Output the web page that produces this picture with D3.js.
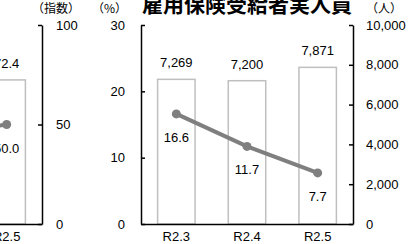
<!DOCTYPE html>
<html>
<head>
<meta charset="utf-8">
<script src="https://cdn.jsdelivr.net/npm/d3@7"></script>
<style>
  body { margin: 0; background: #fff; }
  svg { display: block; font-family: "Liberation Sans", Arial, sans-serif; }
  .axis path, .axis line { stroke: #000; stroke-width: 1.5; }
  .axis text { font-size: 13px; fill: #000; }
</style>
</head>
<body>
<svg width="411" height="244"></svg>
<script>
// categories (shared by both panels)
var categories = ["R2.3", "R2.4", "R2.5"];

// left panel (only its right edge is in view): index
var indexBars = [80.0, 75.0, 72.4];
var indexLine = [60.0, 45.0, 50.0];
var indexTicks = [0, 50, 100];

// main panel: 雇用保険受給者実人員
var recipients = [7269, 7200, 7871];          // 人 (right axis)
var rate = [16.6, 11.7, 7.7];                 // % (left axis)
var rateTicks = [0, 10, 20, 30];
var peopleTicks = [0, 2000, 4000, 6000, 8000, 10000];

var svg = d3.select("svg");
var W = +svg.attr("width");
var top0 = 25, bottom0 = 224;
var barStroke = "#bfbfbf", lineColor = "#7f7f7f";

function band(x0, x1) {
  return d3.scaleBand().domain(categories).range([x0, x1])
    .paddingInner(0.47).paddingOuter(0.235);
}

// only keep labels that at least partly fall inside the picture
function inView(x) { return x > -12 && x < W + 12; }

function drawBars(g, x, y, vals, fmt) {
  var cx = function(i) { return x(categories[i]) + x.bandwidth() / 2; };
  g.selectAll(null).data(vals).enter().append("rect")
    .attr("x", function(d, i) { return x(categories[i]); })
    .attr("y", function(d) { return y(d); })
    .attr("width", x.bandwidth())
    .attr("height", function(d) { return y(0) - y(d); })
    .attr("fill", "#fff")
    .attr("stroke", barStroke)
    .attr("stroke-width", 1.5);
  vals.forEach(function(d, i) {
    if (!inView(cx(i))) return;
    g.append("text")
      .attr("x", cx(i))
      .attr("y", y(d) - 12)
      .attr("text-anchor", "middle")
      .attr("font-size", 13)
      .text(fmt(d));
  });
}

function drawLine(g, x, y, vals, fmt) {
  var cx = function(i) { return x(categories[i]) + x.bandwidth() / 2; };
  g.append("path")
    .datum(vals)
    .attr("fill", "none")
    .attr("stroke", lineColor)
    .attr("stroke-width", 4)
    .attr("d", d3.line().x(function(d, i) { return cx(i); }).y(function(d) { return y(d); }));
  g.selectAll(null).data(vals).enter().append("circle")
    .attr("cx", function(d, i) { return cx(i); })
    .attr("cy", function(d) { return y(d); })
    .attr("r", 4.5)
    .attr("fill", lineColor);
  vals.forEach(function(d, i) {
    if (!inView(cx(i))) return;
    g.append("text")
      .attr("x", cx(i))
      .attr("y", y(d) + 28)
      .attr("text-anchor", "middle")
      .attr("font-size", 13)
      .text(fmt(d));
  });
}

function catAxis(g, x) {
  var ax = g.append("g").attr("class", "axis")
    .attr("transform", "translate(0," + bottom0 + ")")
    .call(d3.axisBottom(x).tickSize(0).tickPadding(8));
  ax.selectAll(".tick")
    .filter(function(d) { return !inView(x(d) + x.bandwidth() / 2); })
    .remove();
}

function unitLabel(x, txt, anchor) {
  svg.append("text")
    .attr("x", x).attr("y", 13)
    .attr("text-anchor", anchor)
    .attr("font-family", "'Noto Sans CJK JP', sans-serif")
    .attr("font-size", 12)
    .text(txt);
}

// ---- left panel ----
var xL = band(-170, 42);
var yIdx = d3.scaleLinear().domain([0, 100]).range([bottom0, top0]);
var gL = svg.append("g");
drawBars(gL, xL, yIdx, indexBars, d3.format(".1f"));
drawLine(gL, xL, yIdx, indexLine, d3.format(".1f"));
catAxis(gL, xL);
gL.append("g").attr("class", "axis")
  .attr("transform", "translate(42,0)")
  .call(d3.axisRight(yIdx).tickValues(indexTicks).tickSize(-4).tickSizeOuter(0).tickPadding(14));
unitLabel(80, "（指数）", "end");

// ---- main panel ----
var xM = band(141, 353);
var yRate = d3.scaleLinear().domain([0, 30]).range([bottom0, top0]);
var yPeople = d3.scaleLinear().domain([0, 10000]).range([bottom0, top0]);
var gM = svg.append("g");
drawBars(gM, xM, yPeople, recipients, d3.format(","));
drawLine(gM, xM, yRate, rate, d3.format(".1f"));
catAxis(gM, xM);
gM.append("g").attr("class", "axis")
  .attr("transform", "translate(141,0)")
  .call(d3.axisLeft(yRate).tickValues(rateTicks).tickSize(-4).tickSizeOuter(0).tickPadding(16));
gM.append("g").attr("class", "axis")
  .attr("transform", "translate(353,0)")
  .call(d3.axisRight(yPeople).tickValues(peopleTicks).tickFormat(d3.format(",")).tickSize(-4).tickSizeOuter(0).tickPadding(13));

unitLabel(127, "（%）", "end");
unitLabel(366, "（人）", "start");

svg.append("text")
  .attr("x", 142).attr("y", 12)
  .attr("font-family", "'Noto Sans CJK JP', sans-serif")
  .attr("font-weight", "bold")
  .attr("font-size", 21)
  .text("雇用保険受給者実人員");
</script>
</body>
</html>
